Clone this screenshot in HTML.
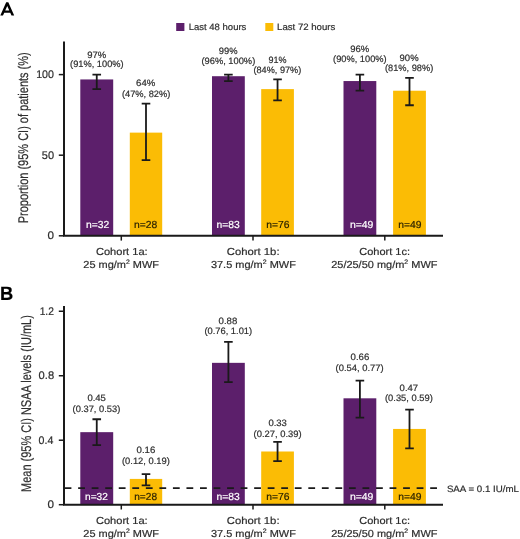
<!DOCTYPE html>
<html><head><meta charset="utf-8"><style>
html,body{margin:0;padding:0;background:#fff;width:520px;height:539px;overflow:hidden}
svg{display:block;will-change:transform}
text{font-family:"Liberation Sans", sans-serif;stroke:currentColor;stroke-width:0.2px;text-rendering:geometricPrecision}
</style></head><body>
<svg width="520" height="539" viewBox="0 0 520 539">
<rect width="520" height="539" fill="#fff"/>
<rect x="80.3" y="79.44" width="32.90" height="156.36" fill="#5c1f6b"/>
<rect x="129.8" y="132.63" width="32.40" height="103.17" fill="#fbbc05"/>
<rect x="212.0" y="76.21" width="32.80" height="159.59" fill="#5c1f6b"/>
<rect x="261.2" y="89.11" width="32.70" height="146.69" fill="#fbbc05"/>
<rect x="343.5" y="81.05" width="32.80" height="154.75" fill="#5c1f6b"/>
<rect x="393.1" y="90.72" width="32.80" height="145.08" fill="#fbbc05"/>
<path d="M92.45 74.60H101.05M96.75 74.60V89.11M92.45 89.11H101.05" stroke="#1a1a1a" stroke-width="1.8" fill="none"/>
<text x="87.25" y="57.5" font-size="9.2" fill="#2e2e2e" color="#2e2e2e" textLength="19.0" lengthAdjust="spacingAndGlyphs">97%</text>
<text x="70.1" y="67.4" font-size="9.2" fill="#2e2e2e" color="#2e2e2e" textLength="53.5" lengthAdjust="spacingAndGlyphs">(91%, 100%)</text>
<text x="86.05" y="228.1" font-size="10.2" fill="#fff" color="#fff" textLength="23.25" lengthAdjust="spacingAndGlyphs">n=32</text>
<path d="M141.70 103.62H150.30M146.00 103.62V160.04M141.70 160.04H150.30" stroke="#1a1a1a" stroke-width="1.8" fill="none"/>
<text x="136.1" y="86.4" font-size="9.2" fill="#2e2e2e" color="#2e2e2e" textLength="19.25" lengthAdjust="spacingAndGlyphs">64%</text>
<text x="121.9" y="97.2" font-size="9.2" fill="#2e2e2e" color="#2e2e2e" textLength="48.5" lengthAdjust="spacingAndGlyphs">(47%, 82%)</text>
<text x="133.95" y="228.0" font-size="10.2" fill="#2a2200" color="#2a2200" textLength="23.25" lengthAdjust="spacingAndGlyphs">n=28</text>
<path d="M224.10 74.60H232.70M228.40 74.60V81.05M224.10 81.05H232.70" stroke="#1a1a1a" stroke-width="1.8" fill="none"/>
<text x="218.75" y="53.5" font-size="9.2" fill="#2e2e2e" color="#2e2e2e" textLength="18.75" lengthAdjust="spacingAndGlyphs">99%</text>
<text x="201.5" y="63.75" font-size="9.2" fill="#2e2e2e" color="#2e2e2e" textLength="53.75" lengthAdjust="spacingAndGlyphs">(96%, 100%)</text>
<text x="216.55" y="227.9" font-size="10.2" fill="#fff" color="#fff" textLength="23.25" lengthAdjust="spacingAndGlyphs">n=83</text>
<path d="M273.25 79.44H281.85M277.55 79.44V100.39M273.25 100.39H281.85" stroke="#1a1a1a" stroke-width="1.8" fill="none"/>
<text x="268.5" y="62.75" font-size="9.2" fill="#2e2e2e" color="#2e2e2e" textLength="18.0" lengthAdjust="spacingAndGlyphs">91%</text>
<text x="253.5" y="72.75" font-size="9.2" fill="#2e2e2e" color="#2e2e2e" textLength="47.75" lengthAdjust="spacingAndGlyphs">(84%, 97%)</text>
<text x="266.35" y="227.9" font-size="10.2" fill="#2a2200" color="#2a2200" textLength="23.25" lengthAdjust="spacingAndGlyphs">n=76</text>
<path d="M355.60 74.60H364.20M359.90 74.60V90.72M355.60 90.72H364.20" stroke="#1a1a1a" stroke-width="1.8" fill="none"/>
<text x="350.25" y="51.5" font-size="9.2" fill="#2e2e2e" color="#2e2e2e" textLength="19.0" lengthAdjust="spacingAndGlyphs">96%</text>
<text x="333.1" y="61.75" font-size="9.2" fill="#2e2e2e" color="#2e2e2e" textLength="53.5" lengthAdjust="spacingAndGlyphs">(90%, 100%)</text>
<text x="349.9" y="227.9" font-size="10.2" fill="#fff" color="#fff" textLength="23.5" lengthAdjust="spacingAndGlyphs">n=49</text>
<path d="M405.20 77.82H413.80M409.50 77.82V105.23M405.20 105.23H413.80" stroke="#1a1a1a" stroke-width="1.8" fill="none"/>
<text x="399.6" y="60.75" font-size="9.2" fill="#2e2e2e" color="#2e2e2e" textLength="19.0" lengthAdjust="spacingAndGlyphs">90%</text>
<text x="385.0" y="70.75" font-size="9.2" fill="#2e2e2e" color="#2e2e2e" textLength="48.25" lengthAdjust="spacingAndGlyphs">(81%, 98%)</text>
<text x="398.35" y="227.9" font-size="10.2" fill="#2a2200" color="#2a2200" textLength="23.25" lengthAdjust="spacingAndGlyphs">n=49</text>
<path d="M64 41.5V235.8H443" stroke="#1a1a1a" stroke-width="2" fill="none"/>
<line x1="58.8" y1="235.80" x2="64" y2="235.80" stroke="#1a1a1a" stroke-width="1.5"/>
<line x1="58.8" y1="155.20" x2="64" y2="155.20" stroke="#1a1a1a" stroke-width="1.5"/>
<line x1="58.8" y1="74.60" x2="64" y2="74.60" stroke="#1a1a1a" stroke-width="1.5"/>
<line x1="121.3" y1="235.8" x2="121.3" y2="240.60000000000002" stroke="#1a1a1a" stroke-width="1.5"/>
<line x1="253.0" y1="235.8" x2="253.0" y2="240.60000000000002" stroke="#1a1a1a" stroke-width="1.5"/>
<line x1="384.8" y1="235.8" x2="384.8" y2="240.60000000000002" stroke="#1a1a1a" stroke-width="1.5"/>
<rect x="80.3" y="432.16" width="32.90" height="72.54" fill="#5c1f6b"/>
<rect x="129.8" y="478.91" width="32.40" height="25.79" fill="#fbbc05"/>
<rect x="212.0" y="362.84" width="32.80" height="141.86" fill="#5c1f6b"/>
<rect x="261.2" y="451.50" width="32.70" height="53.20" fill="#fbbc05"/>
<rect x="343.5" y="398.31" width="32.80" height="106.39" fill="#5c1f6b"/>
<rect x="393.1" y="428.94" width="32.80" height="75.76" fill="#fbbc05"/>
<line x1="64.6" y1="488.10" x2="437.3" y2="488.10" stroke="#1a1a1a" stroke-width="1.9" stroke-dasharray="6.8 6.74"/>
<path d="M92.45 419.26H101.05M96.75 419.26V445.06M92.45 445.06H101.05" stroke="#1a1a1a" stroke-width="1.8" fill="none"/>
<text x="87.4" y="401.2" font-size="9.2" fill="#2e2e2e" color="#2e2e2e" textLength="18.5" lengthAdjust="spacingAndGlyphs">0.45</text>
<text x="72.6" y="411.9" font-size="9.2" fill="#2e2e2e" color="#2e2e2e" textLength="47.75" lengthAdjust="spacingAndGlyphs">(0.37, 0.53)</text>
<text x="85.05" y="500.2" font-size="10.2" fill="#fff" color="#fff" textLength="22.75" lengthAdjust="spacingAndGlyphs">n=32</text>
<path d="M141.70 474.07H150.30M146.00 474.07V485.36M141.70 485.36H150.30" stroke="#1a1a1a" stroke-width="1.8" fill="none"/>
<text x="136.6" y="453.3" font-size="9.2" fill="#2e2e2e" color="#2e2e2e" textLength="18.75" lengthAdjust="spacingAndGlyphs">0.16</text>
<text x="122.0" y="464.0" font-size="9.2" fill="#2e2e2e" color="#2e2e2e" textLength="47.75" lengthAdjust="spacingAndGlyphs">(0.12, 0.19)</text>
<text x="134.25" y="500.2" font-size="10.2" fill="#2a2200" color="#2a2200" textLength="22.75" lengthAdjust="spacingAndGlyphs">n=28</text>
<path d="M224.10 341.89H232.70M228.40 341.89V382.19M224.10 382.19H232.70" stroke="#1a1a1a" stroke-width="1.8" fill="none"/>
<text x="218.6" y="324.0" font-size="9.2" fill="#2e2e2e" color="#2e2e2e" textLength="18.75" lengthAdjust="spacingAndGlyphs">0.88</text>
<text x="204.4" y="334.4" font-size="9.2" fill="#2e2e2e" color="#2e2e2e" textLength="47.75" lengthAdjust="spacingAndGlyphs">(0.76, 1.01)</text>
<text x="216.55" y="500.2" font-size="10.2" fill="#fff" color="#fff" textLength="23.25" lengthAdjust="spacingAndGlyphs">n=83</text>
<path d="M273.25 441.83H281.85M277.55 441.83V461.18M273.25 461.18H281.85" stroke="#1a1a1a" stroke-width="1.8" fill="none"/>
<text x="268.4" y="426.4" font-size="9.2" fill="#2e2e2e" color="#2e2e2e" textLength="18.5" lengthAdjust="spacingAndGlyphs">0.33</text>
<text x="253.6" y="437.1" font-size="9.2" fill="#2e2e2e" color="#2e2e2e" textLength="48.0" lengthAdjust="spacingAndGlyphs">(0.27, 0.39)</text>
<text x="266.35" y="500.2" font-size="10.2" fill="#2a2200" color="#2a2200" textLength="23.25" lengthAdjust="spacingAndGlyphs">n=76</text>
<path d="M355.60 380.58H364.20M359.90 380.58V417.65M355.60 417.65H364.20" stroke="#1a1a1a" stroke-width="1.8" fill="none"/>
<text x="350.6" y="360.4" font-size="9.2" fill="#2e2e2e" color="#2e2e2e" textLength="18.75" lengthAdjust="spacingAndGlyphs">0.66</text>
<text x="335.6" y="371.1" font-size="9.2" fill="#2e2e2e" color="#2e2e2e" textLength="48.0" lengthAdjust="spacingAndGlyphs">(0.54, 0.77)</text>
<text x="349.9" y="500.2" font-size="10.2" fill="#fff" color="#fff" textLength="23.5" lengthAdjust="spacingAndGlyphs">n=49</text>
<path d="M405.20 409.59H413.80M409.50 409.59V448.28M405.20 448.28H413.80" stroke="#1a1a1a" stroke-width="1.8" fill="none"/>
<text x="399.6" y="390.8" font-size="9.2" fill="#2e2e2e" color="#2e2e2e" textLength="18.5" lengthAdjust="spacingAndGlyphs">0.47</text>
<text x="385.0" y="401.1" font-size="9.2" fill="#2e2e2e" color="#2e2e2e" textLength="47.75" lengthAdjust="spacingAndGlyphs">(0.35, 0.59)</text>
<text x="398.35" y="500.2" font-size="10.2" fill="#2a2200" color="#2a2200" textLength="23.25" lengthAdjust="spacingAndGlyphs">n=49</text>
<path d="M64 306.0V504.7H443" stroke="#1a1a1a" stroke-width="2" fill="none"/>
<line x1="58.8" y1="504.70" x2="64" y2="504.70" stroke="#1a1a1a" stroke-width="1.5"/>
<line x1="58.8" y1="440.22" x2="64" y2="440.22" stroke="#1a1a1a" stroke-width="1.5"/>
<line x1="58.8" y1="375.74" x2="64" y2="375.74" stroke="#1a1a1a" stroke-width="1.5"/>
<line x1="58.8" y1="311.26" x2="64" y2="311.26" stroke="#1a1a1a" stroke-width="1.5"/>
<line x1="121.3" y1="504.7" x2="121.3" y2="509.5" stroke="#1a1a1a" stroke-width="1.5"/>
<line x1="253.0" y1="504.7" x2="253.0" y2="509.5" stroke="#1a1a1a" stroke-width="1.5"/>
<line x1="384.8" y1="504.7" x2="384.8" y2="509.5" stroke="#1a1a1a" stroke-width="1.5"/>
<text x="36.15" y="77.7" font-size="11.0" fill="#2e2e2e" color="#2e2e2e" textLength="17.75" lengthAdjust="spacingAndGlyphs">100</text>
<text x="41.8" y="158.7" font-size="11.0" fill="#2e2e2e" color="#2e2e2e" textLength="12.25" lengthAdjust="spacingAndGlyphs">50</text>
<text x="47.5" y="238.8" font-size="11.0" fill="#2e2e2e" color="#2e2e2e" textLength="6.5" lengthAdjust="spacingAndGlyphs">0</text>
<text x="39.65" y="314.6" font-size="11.0" fill="#2e2e2e" color="#2e2e2e" textLength="14.25" lengthAdjust="spacingAndGlyphs">1.2</text>
<text x="38.6" y="378.75" font-size="11.0" fill="#2e2e2e" color="#2e2e2e" textLength="15.5" lengthAdjust="spacingAndGlyphs">0.8</text>
<text x="38.6" y="443.8" font-size="11.0" fill="#2e2e2e" color="#2e2e2e" textLength="14.75" lengthAdjust="spacingAndGlyphs">0.4</text>
<text x="47.5" y="507.7" font-size="11.0" fill="#2e2e2e" color="#2e2e2e" textLength="6.5" lengthAdjust="spacingAndGlyphs">0</text>
<text x="95.9" y="254.55" font-size="10.2" fill="#2e2e2e" color="#2e2e2e" textLength="51.75" lengthAdjust="spacingAndGlyphs">Cohort 1a:</text>
<text x="83.3" y="267.7" font-size="10.2" fill="#2e2e2e" color="#2e2e2e" textLength="75.75" lengthAdjust="spacingAndGlyphs">25 mg/m<tspan dy='-4' font-size='6.5'>2</tspan><tspan dy='4'> MWF</tspan></text>
<text x="226.8" y="254.75" font-size="10.2" fill="#2e2e2e" color="#2e2e2e" textLength="52.75" lengthAdjust="spacingAndGlyphs">Cohort 1b:</text>
<text x="210.9" y="267.7" font-size="10.2" fill="#2e2e2e" color="#2e2e2e" textLength="85.0" lengthAdjust="spacingAndGlyphs">37.5 mg/m<tspan dy='-4' font-size='6.5'>2</tspan><tspan dy='4'> MWF</tspan></text>
<text x="359.3" y="254.65" font-size="10.2" fill="#2e2e2e" color="#2e2e2e" textLength="50.75" lengthAdjust="spacingAndGlyphs">Cohort 1c:</text>
<text x="331.2" y="267.7" font-size="10.2" fill="#2e2e2e" color="#2e2e2e" textLength="106.25" lengthAdjust="spacingAndGlyphs">25/25/50 mg/m<tspan dy='-4' font-size='6.5'>2</tspan><tspan dy='4'> MWF</tspan></text>
<text x="95.9" y="523.65" font-size="10.2" fill="#2e2e2e" color="#2e2e2e" textLength="51.75" lengthAdjust="spacingAndGlyphs">Cohort 1a:</text>
<text x="83.3" y="536.8" font-size="10.2" fill="#2e2e2e" color="#2e2e2e" textLength="75.75" lengthAdjust="spacingAndGlyphs">25 mg/m<tspan dy='-4' font-size='6.5'>2</tspan><tspan dy='4'> MWF</tspan></text>
<text x="226.8" y="523.85" font-size="10.2" fill="#2e2e2e" color="#2e2e2e" textLength="52.75" lengthAdjust="spacingAndGlyphs">Cohort 1b:</text>
<text x="210.9" y="536.8" font-size="10.2" fill="#2e2e2e" color="#2e2e2e" textLength="85.0" lengthAdjust="spacingAndGlyphs">37.5 mg/m<tspan dy='-4' font-size='6.5'>2</tspan><tspan dy='4'> MWF</tspan></text>
<text x="359.3" y="523.75" font-size="10.2" fill="#2e2e2e" color="#2e2e2e" textLength="50.75" lengthAdjust="spacingAndGlyphs">Cohort 1c:</text>
<text x="331.2" y="536.8" font-size="10.2" fill="#2e2e2e" color="#2e2e2e" textLength="106.25" lengthAdjust="spacingAndGlyphs">25/25/50 mg/m<tspan dy='-4' font-size='6.5'>2</tspan><tspan dy='4'> MWF</tspan></text>
<rect x="176.2" y="23" width="8.2" height="8" fill="#5c1f6b"/>
<text x="188.65" y="30.1" font-size="9.2" fill="#2e2e2e" color="#2e2e2e" textLength="57.75" lengthAdjust="spacingAndGlyphs">Last 48 hours</text>
<rect x="265.3" y="23" width="8" height="8" fill="#fbbc05"/>
<text x="277.05" y="30.1" font-size="9.2" fill="#2e2e2e" color="#2e2e2e" textLength="58.25" lengthAdjust="spacingAndGlyphs">Last 72 hours</text>
<text x="446.9" y="491.5" font-size="9.2" fill="#2e2e2e" color="#2e2e2e" textLength="72.0" lengthAdjust="spacingAndGlyphs">SAA = 0.1 IU/mL</text>
<path d="M0.3 15.6L6.2 2.3L8.3 2.3L14.2 15.6L11.5 15.6L10.26 12.8L4.24 12.8L3.0 15.6ZM5.22 10.6L9.28 10.6L7.25 6.02Z" fill="#000" fill-rule="evenodd"/>
<text x="-0.05" y="299.7" font-size="19.3" font-weight="bold" fill="#000" color="#000" textLength="13.25" lengthAdjust="spacingAndGlyphs">B</text>
<text transform="translate(27.6 223.3) rotate(-90)" x="0" y="0" font-size="14.0" fill="#2e2e2e" color="#2e2e2e" textLength="171.0" lengthAdjust="spacingAndGlyphs">Proportion (95% CI) of patients (%)</text>
<text transform="translate(30.65 491.9) rotate(-90)" x="0" y="0" font-size="14.0" fill="#2e2e2e" color="#2e2e2e" textLength="176.75" lengthAdjust="spacingAndGlyphs">Mean (95% CI) NSAA levels (IU/mL)</text>
</svg>
</body></html>
